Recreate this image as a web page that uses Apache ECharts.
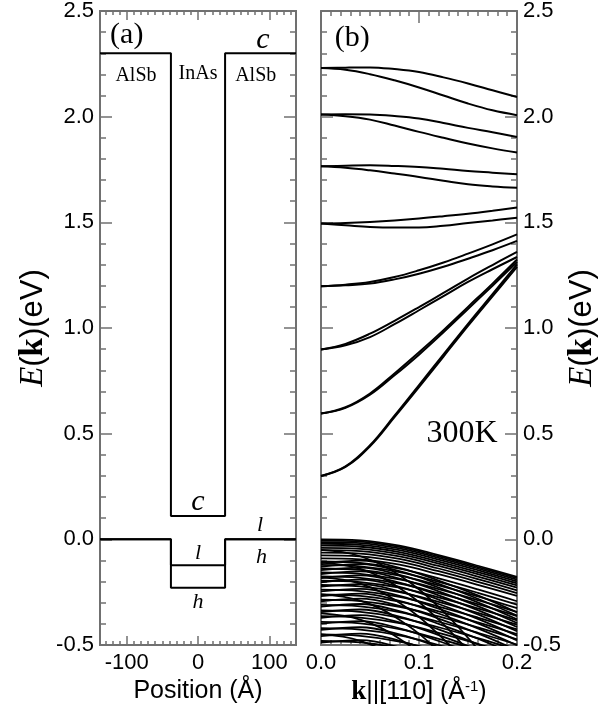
<!DOCTYPE html>
<html><head><meta charset="utf-8">
<script src="https://cdn.jsdelivr.net/npm/echarts@6/dist/echarts.min.js"></script>
<style>html,body{margin:0;padding:0;background:#fff}#c{width:603px;height:717px}</style>
</head><body><div id="c"></div>
<script>
// ---------- Panel (a): band-edge profile ----------
const profileX = [-137.5, -38, -38, 38, 38, 137.5];
const conductionProfile = [2.30, 2.30, 0.11, 0.11, 2.30, 2.30];
const lightHoleProfile = [0, 0, -0.123, -0.123, 0, 0];
const heavyHoleProfile = [0, 0, -0.229, -0.229, 0, 0];
const posMajorTicks = [-100, 0, 100];
const posMinorTicks = [-130,-120,-110,-90,-80,-70,-60,-50,-40,-30,-20,-10,10,20,30,40,50,60,70,80,90,110,120,130];

// ---------- Panel (b): subband dispersion ----------
const kCond = [0, 0.025, 0.05, 0.075, 0.1, 0.125, 0.15, 0.175, 0.2];
const conductionBands = [
  [2.230, 2.232, 2.233, 2.225, 2.211, 2.186, 2.157, 2.125, 2.093],
  [2.230, 2.222, 2.201, 2.172, 2.138, 2.100, 2.062, 2.030, 2.007],
  [2.010, 2.011, 2.010, 2.003, 1.991, 1.970, 1.947, 1.926, 1.904],
  [2.010, 2.002, 1.986, 1.958, 1.928, 1.900, 1.873, 1.850, 1.830],
  [1.765, 1.768, 1.770, 1.767, 1.762, 1.753, 1.743, 1.735, 1.727],
  [1.765, 1.758, 1.746, 1.731, 1.715, 1.697, 1.680, 1.670, 1.664],
  [1.494, 1.497, 1.502, 1.509, 1.518, 1.529, 1.541, 1.555, 1.570],
  [1.494, 1.486, 1.478, 1.475, 1.475, 1.484, 1.497, 1.509, 1.522],
  [1.197, 1.205, 1.218, 1.241, 1.273, 1.310, 1.352, 1.396, 1.443],
  [1.197, 1.202, 1.210, 1.230, 1.257, 1.290, 1.328, 1.368, 1.412],
  [0.898, 0.925, 0.973, 1.034, 1.099, 1.166, 1.234, 1.298, 1.360],
  [0.898, 0.918, 0.957, 1.018, 1.084, 1.151, 1.218, 1.278, 1.336],
  [0.595, 0.625, 0.690, 0.785, 0.885, 0.990, 1.100, 1.210, 1.324],
  [0.595, 0.622, 0.684, 0.776, 0.874, 0.980, 1.090, 1.200, 1.312],
  [0.300, 0.345, 0.445, 0.585, 0.730, 0.875, 1.020, 1.160, 1.301],
  [0.300, 0.343, 0.440, 0.578, 0.720, 0.865, 1.010, 1.150, 1.289]
];
const kVal = [0, 0.04, 0.08, 0.12, 0.16, 0.2];
const heavyHoleBands = [
  [0.000, -0.005, -0.030, -0.075, -0.125, -0.178],
  [-0.006, -0.011, -0.036, -0.081, -0.131, -0.184],
  [-0.013, -0.018, -0.043, -0.088, -0.138, -0.191],
  [-0.021, -0.026, -0.051, -0.096, -0.146, -0.199],
  [-0.030, -0.035, -0.060, -0.105, -0.155, -0.208],
  [-0.040, -0.045, -0.070, -0.115, -0.165, -0.218],
  [-0.051, -0.056, -0.081, -0.126, -0.176, -0.229],
  [-0.063, -0.068, -0.093, -0.138, -0.188, -0.241],
  [-0.076, -0.081, -0.106, -0.151, -0.201, -0.254],
  [-0.090, -0.095, -0.120, -0.165, -0.215, -0.268],
  [-0.105, -0.112, -0.139, -0.185, -0.237, -0.293],
  [-0.121, -0.128, -0.155, -0.201, -0.253, -0.309],
  [-0.138, -0.145, -0.172, -0.218, -0.270, -0.326],
  [-0.156, -0.163, -0.190, -0.236, -0.288, -0.344],
  [-0.175, -0.182, -0.209, -0.255, -0.307, -0.363],
  [-0.195, -0.202, -0.229, -0.275, -0.327, -0.383],
  [-0.216, -0.223, -0.250, -0.296, -0.348, -0.404],
  [-0.238, -0.245, -0.272, -0.318, -0.370, -0.426],
  [-0.261, -0.268, -0.295, -0.341, -0.393, -0.449],
  [-0.285, -0.292, -0.319, -0.365, -0.417, -0.473],
  [-0.310, -0.317, -0.344, -0.390, -0.442, -0.498],
  [-0.336, -0.343, -0.370, -0.416, -0.468, -0.524],
  [-0.363, -0.370, -0.397, -0.443, -0.495, -0.551],
  [-0.391, -0.398, -0.425, -0.471, -0.523, -0.579],
  [-0.420, -0.427, -0.454, -0.500, -0.552, -0.608],
  [-0.450, -0.457, -0.484, -0.530, -0.582, -0.638],
  [-0.481, -0.488, -0.515, -0.561, -0.613, -0.669]
];
const spinPartnerBands = [
  [-0.113, -0.101, -0.135, -0.195, -0.265, -0.345],
  [-0.129, -0.117, -0.151, -0.211, -0.281, -0.361],
  [-0.146, -0.134, -0.168, -0.228, -0.298, -0.378],
  [-0.164, -0.152, -0.186, -0.246, -0.316, -0.396],
  [-0.183, -0.171, -0.205, -0.265, -0.335, -0.415],
  [-0.203, -0.191, -0.225, -0.285, -0.355, -0.435],
  [-0.224, -0.212, -0.246, -0.306, -0.376, -0.456],
  [-0.246, -0.234, -0.268, -0.328, -0.398, -0.478],
  [-0.269, -0.257, -0.291, -0.351, -0.421, -0.501],
  [-0.293, -0.281, -0.315, -0.375, -0.445, -0.525],
  [-0.318, -0.306, -0.340, -0.400, -0.470, -0.550],
  [-0.344, -0.332, -0.366, -0.426, -0.496, -0.576],
  [-0.371, -0.359, -0.393, -0.453, -0.523, -0.603],
  [-0.399, -0.387, -0.421, -0.481, -0.551, -0.631],
  [-0.428, -0.416, -0.450, -0.510, -0.580, -0.660],
  [-0.458, -0.446, -0.480, -0.540, -0.610, -0.690],
  [-0.489, -0.477, -0.511, -0.571, -0.641, -0.721]
];
const lightHoleBands = [
  [-0.050, -0.080, -0.170, -0.320, -0.520, -0.750],
  [-0.110, -0.140, -0.230, -0.380, -0.580, -0.810],
  [-0.180, -0.210, -0.300, -0.450, -0.650, -0.880],
  [-0.260, -0.290, -0.380, -0.530, -0.730, -0.960],
  [-0.350, -0.380, -0.470, -0.620, -0.820, -1.050],
  [-0.450, -0.480, -0.570, -0.720, -0.920, -1.150]
];
const eMajor = 0.5;

// ---------- chart ----------
const AX = '#707070';
const SANS = 'Liberation Sans', SERIF = 'Liberation Serif';
const chart = echarts.init(document.getElementById('c'), null, {renderer: 'canvas'});

function yAx(grid, pos, labels, gap) {
  const a = {
    type: 'value', gridIndex: grid, position: pos, min: -0.5, max: 2.5, interval: eMajor,
    axisLine: {show: true, onZero: false, lineStyle: {color: AX, width: 2}},
    axisTick: {show: true, inside: true, length: 12, lineStyle: {color: AX, width: 1.5}},
    minorTick: {show: true, splitNumber: 5, length: 6, lineStyle: {color: AX, width: 1.5}},
    splitLine: {show: false}, minorSplitLine: {show: false},
    axisLabel: {show: labels, color: '#000', fontFamily: SANS, fontSize: 22, margin: 6,
      showMinLabel: true, showMaxLabel: true, formatter: v => v.toFixed(1)}
  };
  if (gap) {
    Object.assign(a, {
      name: '{i|E}{s|(}{b|k}{s|)(eV)}', nameLocation: 'middle', nameRotate: 90, nameGap: gap,
      nameTextStyle: {rich: {
        i: {fontFamily: SERIF, fontStyle: 'italic', fontSize: 33, color: '#000'},
        b: {fontFamily: SERIF, fontWeight: 'bold', fontSize: 33, color: '#000'},
        s: {fontFamily: SANS, fontSize: 31, color: '#000'}
      }}
    });
  }
  return a;
}
function posAx(pos, ticks, len, labels) {
  const a = {
    type: 'value', gridIndex: 0, position: pos, min: -137.5, max: 137.5,
    axisLine: {show: true, onZero: false, lineStyle: {color: AX, width: 2}},
    axisTick: {show: true, inside: true, length: len, customValues: ticks, lineStyle: {color: AX, width: 1.5}},
    splitLine: {show: false},
    axisLabel: {show: labels, customValues: posMajorTicks, color: '#000', fontFamily: SANS, fontSize: 22, margin: 7}
  };
  if (labels) Object.assign(a, {
    name: 'Position (Å)', nameLocation: 'middle', nameGap: 31,
    nameTextStyle: {fontFamily: SANS, fontSize: 25, color: '#000'}
  });
  return a;
}
function kAx(pos, labels) {
  const a = {
    type: 'value', gridIndex: 1, position: pos, min: 0, max: 0.2, interval: 0.1,
    axisLine: {show: true, onZero: false, lineStyle: {color: AX, width: 2}},
    axisTick: {show: true, inside: true, length: 12, lineStyle: {color: AX, width: 1.5}},
    minorTick: {show: true, splitNumber: 10, length: 5, lineStyle: {color: AX, width: 1.5}},
    splitLine: {show: false}, minorSplitLine: {show: false},
    axisLabel: {show: labels, color: '#000', fontFamily: SANS, fontSize: 22, margin: 7,
      showMinLabel: true, showMaxLabel: true, formatter: v => v.toFixed(1)}
  };
  if (labels) Object.assign(a, {
    name: '{b|k}{s|||[110] (Å}{sup|-1}{s|)}', nameLocation: 'middle', nameGap: 31,
    nameTextStyle: {rich: {
      b: {fontFamily: SERIF, fontWeight: 'bold', fontSize: 27, color: '#000'},
      s: {fontFamily: SANS, fontSize: 25, color: '#000'},
      sup: {fontFamily: SANS, fontSize: 15, color: '#000', verticalAlign: 'top'}
    }}
  });
  return a;
}

const series = [];
function profile(vals) {
  return {type: 'line', xAxisIndex: 0, yAxisIndex: 0, showSymbol: false, silent: true,
    lineStyle: {color: '#000', width: 2}, data: profileX.map((x, i) => [x, vals[i]])};
}
series.push(profile(conductionProfile), profile(lightHoleProfile), profile(heavyHoleProfile));

function band(kArr, vals, w) {
  return {type: 'line', xAxisIndex: 4, yAxisIndex: 3, showSymbol: false, silent: true, smooth: 0.4,
    clip: true, lineStyle: {color: '#000', width: w}, data: kArr.map((k, i) => [k, vals[i]])};
}
conductionBands.forEach(b => series.push(band(kCond, b, 2)));
heavyHoleBands.forEach(b => series.push(band(kVal, b, 1.8)));
spinPartnerBands.forEach(b => series.push(band(kVal, b, 1.8)));
lightHoleBands.forEach(b => series.push(band(kVal, b, 1.8)));

const serif = (sz, it) => ({fontFamily: SERIF, fontSize: sz, fontStyle: it ? 'italic' : 'normal',
  color: '#000', opacity: 1, textBorderWidth: 0, textBorderColor: 'transparent'});
const labelBase = {show: true, position: 'inside', formatter: p => p.name, color: '#000',
  opacity: 1, textBorderWidth: 0};
series.push({
  type: 'scatter', xAxisIndex: 0, yAxisIndex: 0, symbolSize: 0, silent: true,
  itemStyle: {color: '#000', opacity: 1}, label: labelBase,
  data: [
    {name: '(a)', value: [-100, 2.387], label: serif(30)},
    {name: 'c', value: [91, 2.362], label: serif(30, true)},
    {name: 'AlSb', value: [-87, 2.192], label: serif(20)},
    {name: 'InAs', value: [0, 2.204], label: serif(20)},
    {name: 'AlSb', value: [81, 2.192], label: serif(20)},
    {name: 'c', value: [0, 0.175], label: serif(30, true)},
    {name: 'l', value: [0, -0.066], label: serif(22, true)},
    {name: 'h', value: [0, -0.298], label: serif(22, true)},
    {name: 'l', value: [87, 0.066], label: serif(22, true)},
    {name: 'h', value: [89, -0.085], label: serif(22, true)}
  ]
});
series.push({
  type: 'scatter', xAxisIndex: 4, yAxisIndex: 3, symbolSize: 0, silent: true,
  itemStyle: {color: '#000', opacity: 1}, label: labelBase,
  data: [
    {name: '(b)', value: [0.032, 2.374], label: serif(30)},
    {name: '300K', value: [0.144, 0.50], label: serif(32)}
  ]
});

chart.setOption({
  animation: false,
  backgroundColor: '#fff',
  grid: [
    {left: 100, right: 307, top: 11, bottom: 72},
    {left: 321, right: 86, top: 11, bottom: 72}
  ],
  xAxis: [
    posAx('bottom', posMajorTicks, 9, true),
    posAx('bottom', posMinorTicks, 4, false),
    posAx('top', posMajorTicks, 9, false),
    posAx('top', posMinorTicks, 4, false),
    kAx('bottom', true),
    kAx('top', false)
  ],
  yAxis: [
    yAx(0, 'left', true, 50),
    yAx(0, 'right', false),
    yAx(1, 'left', false),
    yAx(1, 'right', true, 49)
  ],
  series: series
});
</script></body></html>
